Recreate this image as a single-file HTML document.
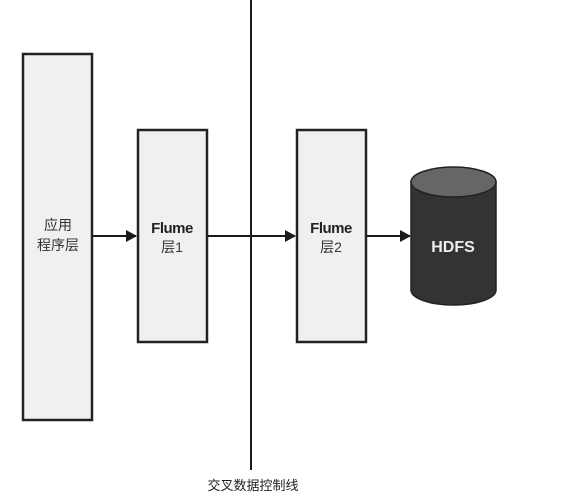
<!DOCTYPE html>
<html><head><meta charset="utf-8"><style>
html,body{margin:0;padding:0;background:#fff;}
svg{display:block;}
text{font-family:"Liberation Sans","Noto Sans CJK SC",sans-serif;}
</style></head><body>
<svg width="563" height="503" viewBox="0 0 563 503" xmlns="http://www.w3.org/2000/svg">
<defs>
<marker id="a" markerWidth="11" markerHeight="12" refX="10" refY="6" orient="auto" markerUnits="userSpaceOnUse">
<path d="M0,0 L11,6 L0,12 Z" fill="#1a1a1a"/></marker>
</defs>
<line x1="251" y1="0" x2="251" y2="470" stroke="#1a1a1a" stroke-width="2"/>
<rect x="23" y="54" width="69" height="366" fill="#f0f0f0" stroke="#222" stroke-width="2.5"/>
<rect x="138" y="130" width="69" height="212" fill="#f0f0f0" stroke="#222" stroke-width="2.5"/>
<rect x="297" y="130" width="69" height="212" fill="#f0f0f0" stroke="#222" stroke-width="2.5"/>
<line x1="93" y1="236" x2="136" y2="236" stroke="#1a1a1a" stroke-width="2" marker-end="url(#a)"/>
<line x1="208" y1="236" x2="295" y2="236" stroke="#1a1a1a" stroke-width="2" marker-end="url(#a)"/>
<line x1="367" y1="236" x2="410" y2="236" stroke="#1a1a1a" stroke-width="2" marker-end="url(#a)"/>
<path d="M411,182 L411,290 A42.5,15 0 0 0 496,290 L496,182 Z" fill="#333" stroke="#222" stroke-width="1.5"/>
<ellipse cx="453.5" cy="182" rx="42.5" ry="15" fill="#666" stroke="#222" stroke-width="1.5"/>
<text x="58" y="230" font-size="14" text-anchor="middle" fill="#333">应用</text>
<text x="58" y="250" font-size="14" text-anchor="middle" fill="#333">程序层</text>
<text x="172" y="233" font-size="15" font-weight="bold" letter-spacing="-0.5" text-anchor="middle" fill="#222">Flume</text>
<text x="172" y="252" font-size="14" text-anchor="middle" fill="#333">层1</text>
<text x="331" y="233" font-size="15" font-weight="bold" letter-spacing="-0.5" text-anchor="middle" fill="#222">Flume</text>
<text x="331" y="252" font-size="14" text-anchor="middle" fill="#333">层2</text>
<text x="453" y="252" font-size="16" font-weight="bold" text-anchor="middle" fill="#eee">HDFS</text>
<text x="253" y="490" font-size="13" text-anchor="middle" fill="#222">交叉数据控制线</text>
</svg>
</body></html>
